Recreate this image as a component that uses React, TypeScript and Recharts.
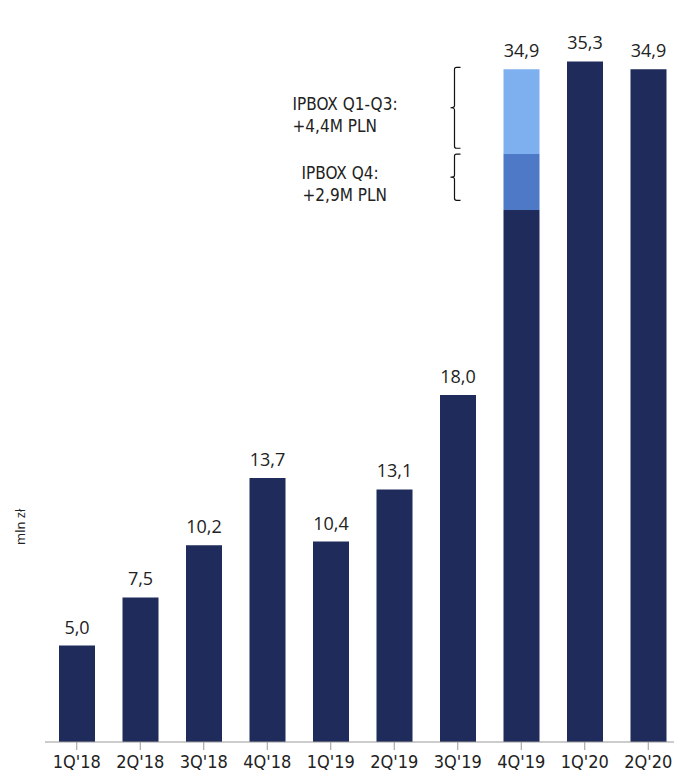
import { BarChart, Bar, XAxis, YAxis, LabelList, ReferenceArea } from 'recharts';

const quarters = ["1Q'18", "2Q'18", "3Q'18", "4Q'18", "1Q'19", "2Q'19", "3Q'19", "4Q'19", "1Q'20", "2Q'20"];
// core result, without the IPBOX effect
const baseValues = [5.0, 7.5, 10.2, 13.7, 10.4, 13.1, 18.0, 27.6, 35.3, 34.9];
// IPBOX relief booked in 4Q'19
const ipboxQ4 = [0, 0, 0, 0, 0, 0, 0, 2.9, 0, 0];
const ipboxQ1Q3 = [0, 0, 0, 0, 0, 0, 0, 4.4, 0, 0];

const NAVY = '#1f2b5b';
const MID_BLUE = '#4e79c6';
const LIGHT_BLUE = '#7eb0ef';
const TEXT = '#222';
const TICK_FONT = '"Liberation Sans Narrow", "DejaVu Sans Condensed", sans-serif';
const NOTE_FONT = '"DejaVu Sans Condensed", "DejaVu Sans", sans-serif';
const VALUE_FONT = '"Open Sans", "Noto Sans", sans-serif';

const data = quarters.map((q, i) => ({
  quarter: q,
  base: baseValues[i],
  q4: ipboxQ4[i],
  q13: ipboxQ1Q3[i],
  total: +(baseValues[i] + ipboxQ4[i] + ipboxQ1Q3[i]).toFixed(1),
}));

const fmt = (v: number) => v.toFixed(1).replace('.', ',');

// curly braces beside the 4Q'19 stack (y in mln zł)
const braces = [
  { top: 35.0, bottom: 30.8, lines: ['IPBOX Q1-Q3:', `+${fmt(ipboxQ1Q3[7])}M PLN`], dx: [-162, -162] },
  { top: 30.5, bottom: 28.1, lines: ['IPBOX Q4:', `+${fmt(ipboxQ4[7])}M PLN`], dx: [-153, -152] },
];

function Brace({ x, y, height, note }: any) {
  const sx = x - 35;
  const mid = y + height / 2;
  return (
    <g>
      <path
        d={`M${sx + 6},${y} L${sx + 2},${y} Q${sx},${y} ${sx},${y + 2} L${sx},${mid - 2} Q${sx},${mid} ${sx - 4},${mid}
            Q${sx},${mid} ${sx},${mid + 2} L${sx},${y + height - 2} Q${sx},${y + height} ${sx + 2},${y + height} L${sx + 6},${y + height}`}
        fill="none"
        stroke="#111"
        strokeWidth={1.2}
      />
      <text fontFamily={NOTE_FONT} fontSize={17} fill={TEXT} dominantBaseline="central">
        {note.lines.map((line: string, i: number) => (
          <tspan key={i} x={sx + note.dx[i]} y={mid + (i === 0 ? -4 : 18)}>
            {line}
          </tspan>
        ))}
      </text>
    </g>
  );
}

const valueStyle = { fontFamily: VALUE_FONT, fontSize: 18, fill: TEXT };

// label on the top segment of each column
const topLabel = (series: 'base' | 'q13') => (props: any) => {
  const { x, y, width, height, index, value } = props;
  const isTop =
    series === 'q13'
      ? Math.abs(height) > 0.5
      : data[index] && data[index].q13 === 0 && data[index].q4 === 0;
  if (!isTop) return null;
  return (
    <text x={x + width / 2} y={y - 12} textAnchor="middle" {...valueStyle}>
      {fmt(Number(value))}
    </text>
  );
};

export default function App() {
  return (
    <div style={{ position: 'absolute', left: 0, top: 0, width: 674, height: 777, overflow: 'hidden', background: '#fff' }}>
      <BarChart
        width={700}
        height={777}
        data={data}
        margin={{ top: 48, right: 20, bottom: 0, left: 0 }}
        barSize={36}
      >
        <XAxis
          dataKey="quarter"
          height={35}
          tickLine={{ stroke: '#999' }}
          tickSize={8}
          tickMargin={5}
          axisLine={{ stroke: '#999' }}
          tick={{ fill: TEXT, fontSize: 18, fontFamily: TICK_FONT }}
          interval={0}
        />
        <YAxis
          domain={[0, 36]}
          allowDataOverflow
          width={45}
          axisLine={false}
          tickLine={false}
          tick={false}
          label={({ viewBox }: any) => (
            <text
              transform={`translate(${viewBox.x + 20},${viewBox.y + viewBox.height * 0.69}) rotate(-90)`}
              textAnchor="middle"
              dominantBaseline="central"
              fontFamily={VALUE_FONT}
              fontSize={13}
              fill={TEXT}
            >
              mln zł
            </text>
          )}
        />
        <Bar dataKey="base" stackId="a" fill={NAVY} isAnimationActive={false}>
          <LabelList dataKey="total" content={topLabel('base')} />
        </Bar>
        <Bar dataKey="q4" stackId="a" fill={MID_BLUE} isAnimationActive={false} />
        <Bar dataKey="q13" stackId="a" fill={LIGHT_BLUE} isAnimationActive={false}>
          <LabelList dataKey="total" content={topLabel('q13')} />
        </Bar>
        {braces.map((b, i) => (
          <ReferenceArea
            key={i}
            x1="4Q'19"
            x2="4Q'19"
            y1={b.bottom}
            y2={b.top}
            ifOverflow="visible"
            shape={(p: any) => <Brace {...p} note={b} />}
          />
        ))}
      </BarChart>
    </div>
  );
}
